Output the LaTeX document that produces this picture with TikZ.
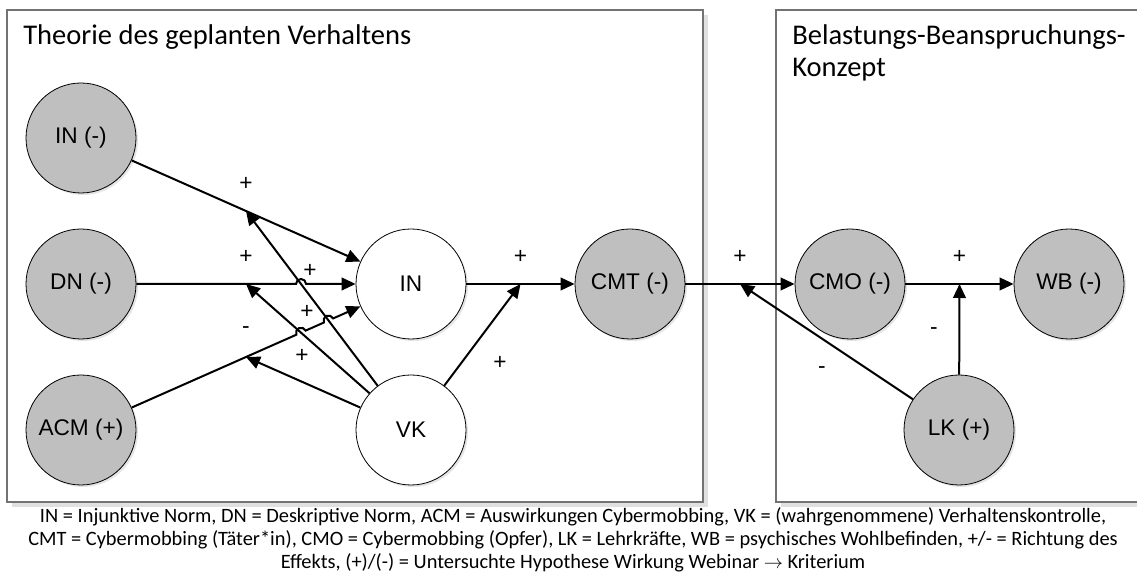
\documentclass[tikz,border=0pt]{standalone}
\usepackage{fontspec}
\setmainfont{Carlito}
\newfontfamily\arialfont{Liberation Sans}
\usetikzlibrary{arrows.meta,calc,shadows}

\tikzset{
  var/.style={circle, draw, line width=0.6pt, minimum size=82.5pt, inner sep=0pt,
    font=\arialfont\fontsize{17}{20}\selectfont,
    drop shadow={shadow xshift=1.5pt, shadow yshift=-1.5pt, fill=black!10, opacity=1}},
  vargrau/.style={var, fill=black!25},
  varweiss/.style={var, fill=white},
  pfeil/.style={line width=1.5pt, -{Triangle[length=10.5pt,width=9.5pt]}},
  lbl/.style={font=\arialfont\fontsize{17}{20}\selectfont, inner sep=0pt},
  rahmen/.style={draw=black!55, line width=0.8pt, fill=white,
    drop shadow={shadow xshift=3.5pt, shadow yshift=-3.5pt, fill=black!12, opacity=1}},
  titel/.style={font=\fontsize{21.4}{24}\selectfont, inner sep=0pt, align=left}
}

\begin{document}
\begin{tikzpicture}[x=0.75pt, y=0.75pt]
  \clip (0,0) rectangle (1137,577);
  \fill[white] (0,0) rectangle (1137,577);
  \path[rahmen] (7,75) rectangle (703,567);
  \path[rahmen] (776,75) rectangle (1150,567);
  \node[titel, anchor=base west] (tpb) at (23,532) {Theorie des geplanten Verhaltens};
  \node[titel, anchor=base west] (bbk) at (792,500) {Belastungs-Beanspruchungs-\\Konzept};

  \node[vargrau] (inm) at (81,439) {IN (-)};
  \node[vargrau] (dn) at (81,293) {DN (-)};
  \node[vargrau] (acm) at (81,147) {ACM (+)};
  \node[varweiss] (in) at (411,293) {IN};
  \node[varweiss] (vk) at (411,147) {VK};
  \node[vargrau] (cmt) at (630,293) {CMT (-)};
  \node[vargrau] (cmo) at (850,293) {CMO (-)};
  \node[vargrau] (wb) at (1069,293) {WB (-)};
  \node[vargrau] (lk) at (959,147) {LK (+)};

  \coordinate (m1) at ($(inm)!0.5!(in)$);
  \coordinate (m2) at ($(dn)!0.5!(in)$);
  \coordinate (m3) at ($(acm)!0.5!(in)$);
  \coordinate (m4) at ($(in)!0.5!(cmt)$);
  \coordinate (m5) at ($(cmt)!0.5!(cmo)$);
  \coordinate (m6) at ($(cmo)!0.5!(wb)$);
  \coordinate (j1) at (intersection of dn.center--in.center and vk.center--m1);
  \coordinate (j2) at (intersection of acm.center--in.center and vk.center--m2);
  \coordinate (j3) at (intersection of acm.center--in.center and vk.center--m1);

  \draw[pfeil] (vk) -- (m1);
  \draw[pfeil] (vk) -- (m2);
  \draw[pfeil] (vk) -- (m3);
  \draw[pfeil] (vk) -- (m4);
  \draw[pfeil] (lk) -- (m5);
  \draw[pfeil] (lk) -- (m6);
  \draw[pfeil] (inm) -- (in);
  \draw[pfeil] (dn) -- ($(j1)!3.75pt!(dn)$) arc[start angle=180, end angle=0, radius=5] -- (in);
  \draw[pfeil] (acm) -- ($(j2)!3.75pt!(acm)$) arc[start angle=203.87, end angle=23.87, radius=5]
    -- ($(j3)!3.75pt!(acm)$) arc[start angle=203.87, end angle=23.87, radius=5] -- (in);
  \draw[pfeil] (in) -- (cmt);
  \draw[pfeil] (cmt) -- (cmo);
  \draw[pfeil] (cmo) -- (wb);

  \node[lbl] (p1) at ([yshift=20.5pt]m1) {+};
  \node[lbl] (p2) at ([yshift=20.5pt]m2) {+};
  \node[lbl] (p3) at ([yshift=20.5pt]m3) {-};
  \node[lbl] (p4) at ([yshift=20.5pt]m4) {+};
  \node[lbl] (p5) at ([yshift=20.5pt]m5) {+};
  \node[lbl] (p6) at ([yshift=20.5pt]m6) {+};
  \node[lbl] (q1) at (310,306) {+};
  \node[lbl] (q2) at (307,265) {+};
  \node[lbl] (q3) at (302,221) {+};
  \node[lbl] (q4) at (500,214) {+};
  \node[lbl] (q5) at (822,207) {-};
  \node[lbl] (q6) at (934,246) {-};

  \node[font=\fontsize{15.3}{17.4}\selectfont, align=center, anchor=base, inner sep=0pt] (legende) at (573,8)
    {IN = Injunktive Norm, DN = Deskriptive Norm, ACM = Auswirkungen Cybermobbing, VK = (wahrgenommene) Verhaltenskontrolle,\\
     CMT = Cybermobbing (Täter*in), CMO = Cybermobbing (Opfer), LK = Lehrkräfte, WB = psychisches Wohlbefinden, +/- = Richtung des\\
     Effekts, (+)/(-) = Untersuchte Hypothese Wirkung Webinar $\rightarrow$ Kriterium};
\end{tikzpicture}
\end{document}
